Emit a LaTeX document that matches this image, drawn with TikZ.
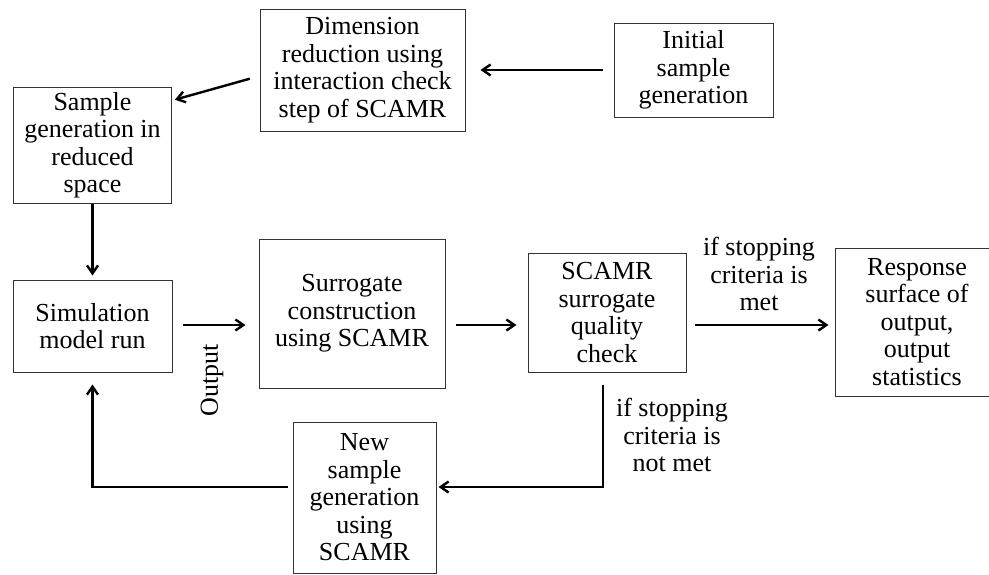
\documentclass[tikz,border=0pt]{standalone}
\usepackage{fontspec}
\setmainfont{Liberation Serif}
\usetikzlibrary{arrows.meta}

\begin{document}
\begin{tikzpicture}[%
        x=1pt, y=-1pt,              % pixel-like units, y going down
        >={Straight Barb[length=8pt,width=11pt]},
        font=\fontsize{26}{27.5}\selectfont,
    ]
    \tikzset{
        base/.style={draw=black!80, line width=1pt, align=center, inner sep=0pt},
        proc/.style={base, rectangle},
        lbl/.style={align=center, inner sep=0pt},
        % connector line style
        flow/.style={->, draw, line width=2.4pt},
    }
    \useasboundingbox (0,0) rectangle (989,574);
    %%% Blocks
    \node [proc, minimum width=205pt, minimum height=122pt] (dimred) at (362.5,70) {
        Dimension\\reduction using\\interaction check\\step of SCAMR
    };
    \node [proc, minimum width=159pt, minimum height=94pt] (init) at (693.5,70) {
        Initial\\sample\\generation
    };
    \node [proc, minimum width=158pt, minimum height=116pt] (reduced) at (92.5,145) {
        Sample\\generation in\\reduced\\space
    };
    \node [proc, minimum width=159pt, minimum height=92pt] (sim) at (92.5,326) {
        Simulation\\model run
    };
    \node [proc, minimum width=186pt, minimum height=149pt] (surr) at (352,313.5) {
        Surrogate\\construction\\using SCAMR
    };
    \node [proc, minimum width=158pt, minimum height=119pt] (check) at (607,312.5) {
        SCAMR\\surrogate\\quality\\check
    };
    % right side runs off the page, as in the figure
    \node [proc, minimum width=164pt, minimum height=148pt] (resp) at (917,322) {
        Response\\surface of\\output,\\output\\statistics
    };
    \node [proc, minimum width=143pt, minimum height=151pt] (newsamp) at (364.5,497.5) {
        New\\sample\\generation\\using\\SCAMR
    };
    %%% Labels
    \node [lbl, rotate=90] (outlbl) at (212,380) {Output};
    \node [lbl] (metlbl) at (759,274) {if stopping\\criteria is\\met};
    \node [lbl] (notlbl) at (672,435) {if stopping\\criteria is\\not met};
    %%% Nodes
    \coordinate (row) at (0,325);
    \coordinate (lowrow) at (0,487);
    %%% Connectors
    \draw [flow, shorten <=11pt, shorten >=15pt] (init.west) -- (dimred.east);
    \draw [flow, shorten <=10pt, shorten >=3pt] ([yshift=-6pt]dimred.west) -- ([yshift=-14pt]reduced.north east);
    \draw [flow, shorten >=4pt] (reduced.south) -- (sim.north);
    \draw [flow, shorten <=10pt, shorten >=13pt] (sim.east |- row) -- (surr.west |- row);
    \draw [flow, shorten <=10pt, shorten >=11pt] (surr.east |- row) -- (check.west |- row);
    \draw [flow, shorten <=8pt, shorten >=6pt] (check.east |- row) -- (resp.west |- row);
    % -- loop back
    \draw [flow, shorten <=12pt, shorten >=2pt] ([xshift=-4pt]check.south) |- (newsamp.east |- lowrow);
    \draw [flow, shorten <=5pt, shorten >=12pt] (newsamp.west |- lowrow) -| (sim.south);
\end{tikzpicture}
\end{document}
